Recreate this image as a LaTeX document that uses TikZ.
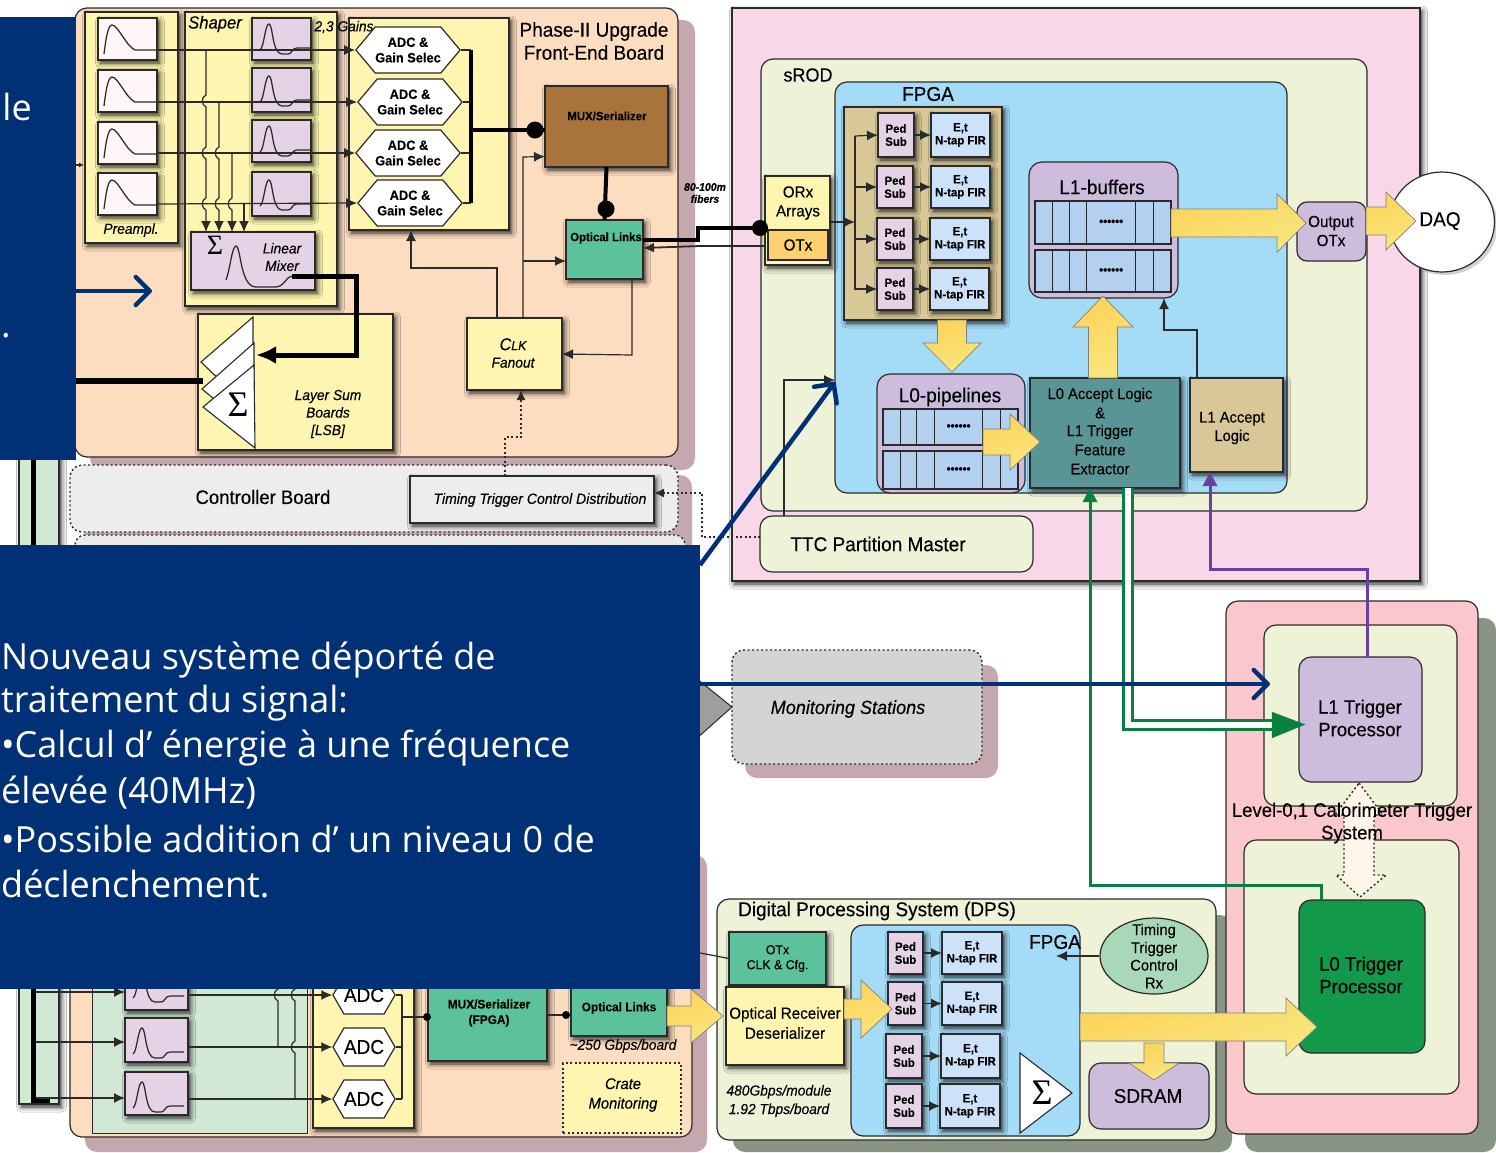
\documentclass[tikz,border=0pt]{standalone}
\usepackage{fontspec}
\setmainfont[FakeStretch=0.95,FakeBold=0.25]{Liberation Sans}
\newfontfamily\cmc{Open Sans}
\newfontfamily\sgm{Liberation Serif}
\usetikzlibrary{arrows.meta,shapes.symbols,shapes.geometric,shadows,shadows.blur,calc}
\definecolor{linec}{HTML}{2A2A2A}
\definecolor{peach}{HTML}{FDDDC0}
\definecolor{mauve}{HTML}{C4A8AE}
\definecolor{ylw}{HTML}{FDF5B0}
\definecolor{lilac}{HTML}{CDBCDC}
\definecolor{pinkbx}{HTML}{E6D2E6}
\definecolor{palegr}{HTML}{EEF3D8}
\definecolor{fblue}{HTML}{A4DCF8}
\definecolor{tan}{HTML}{D8C898}
\definecolor{etb}{HTML}{CCE2F8}
\definecolor{cell}{HTML}{B4D0F0}
\definecolor{teal}{HTML}{5A9595}
\definecolor{optg}{HTML}{5CC29C}
\definecolor{navy}{HTML}{003075}
\definecolor{grn}{HTML}{078040}
\definecolor{prp}{HTML}{6A3FA0}
\definecolor{gshd}{HTML}{8A9484}
\definecolor{brownb}{HTML}{A8743C}
\definecolor{cratep}{HTML}{F8D8E8}
\definecolor{lvlp}{HTML}{FAC8CC}
\definecolor{l0g}{HTML}{12994A}
\definecolor{timg}{HTML}{A8D8B8}
\definecolor{otxo}{HTML}{FFD070}
\definecolor{stripg}{HTML}{D0E8D4}
\definecolor{barA}{HTML}{FDD35A}
\definecolor{barB}{HTML}{F8E67E}
\newcommand\fs[1]{\fontsize{#1}{#1}\selectfont}
\newcounter{lb}
\newcommand\bx[7]{\node[#6,minimum width={#4-#2},minimum height={#5-#3},inner sep=0pt,outer sep=0pt,align=center] (#1) at ({(#2+#4)/2},{(#3+#5)/2}) {#7};}
\newcommand\lbl[4][]{\stepcounter{lb}\node[align=center,inner sep=0pt,#1] (t\thelb) at (#2,#3) {#4};}
\newcommand\pulA[2]{\draw[pulse,shift={(#1,#2)}] (6,36) .. controls (8,20) and (10,7) .. (14,7) .. controls (20,7) and (28,28) .. (37,32) -- (59,32);}
\newcommand\pulB[2]{\draw[pulse,shift={(#1,#2)}] (8,32) .. controls (12,30) and (13,6) .. (17,6) .. controls (21,6) and (20,36) .. (30,36) -- (36,36) .. controls (40,36) and (40,30) .. (45,30) -- (59,30);}
\newcommand\hopv[2]{-- ({#1},{#2-6}) .. controls ({#1-5},{#2-4}) and ({#1-5},{#2+4}) .. ({#1},{#2+6})}
\newcommand\barR[5]{\draw[bar] let \p1=(#1),\p2=(#2) in (\x1,{\y2-#4pt}) -- ({\x2-#3pt},{\y2-#4pt}) -- ({\x2-#3pt},{\y2-#5pt}) -- (\p2) -- ({\x2-#3pt},{\y2+#5pt}) -- ({\x2-#3pt},{\y2+#4pt}) -- (\x1,{\y2+#4pt}) -- cycle;}
\newcommand\barD[5]{\draw[bar] let \p1=(#1),\p2=(#2) in ({\x2-#4pt},\y1) -- ({\x2-#4pt},{\y2+#3pt}) -- ({\x2-#5pt},{\y2+#3pt}) -- (\p2) -- ({\x2+#5pt},{\y2+#3pt}) -- ({\x2+#4pt},{\y2+#3pt}) -- ({\x2+#4pt},\y1) -- cycle;}
\newcommand\barU[5]{\draw[bar] let \p1=(#1),\p2=(#2) in ({\x2-#4pt},\y1) -- ({\x2-#4pt},{\y2-#3pt}) -- ({\x2-#5pt},{\y2-#3pt}) -- (\p2) -- ({\x2+#5pt},{\y2-#3pt}) -- ({\x2+#4pt},{\y2-#3pt}) -- ({\x2+#4pt},\y1) -- cycle;}
\newcommand\cells[5]{\bx{#1}{#2}{#3}{#4}{#5}{fill=cell,draw=linec,line width=1.1pt}{}
 \foreach \f in {.127,.25,.38,.74,.87}{\draw[linec,line width=.9pt] ($(#1.north west)!\f!(#1.north east)$) -- ($(#1.south west)!\f!(#1.south east)$);}
 \lbl[font=\fs{12}\bfseries]{{#2+(#4-#2)*.56}}{{(#3+#5)/2}}{••••••}}
\newcommand\pedet[7]{\bx{p#1}{#2}{#3}{#4}{#5}{pbx}{Ped\\[1pt]Sub}\bx{e#1}{#6}{#3}{#7}{#5}{ebx}{E,t\\[1pt]N-tap FIR}\draw[conn] (p#1.east) -- (e#1.west);}
\tikzset{
 sh/.style={blur shadow={shadow xshift=2.5pt,shadow yshift=-3pt,shadow blur radius=5pt,shadow opacity=85}},
 bb/.style={draw=linec,line width=1.2pt},
 pulse/.style={draw=linec,line width=1.25pt},
 conn/.style={draw=linec,line width=1.2pt,-{Latex[length=11pt,width=10pt]}},
 plain/.style={draw=linec,line width=1.2pt},
 thickk/.style={draw=black,line width=3.5pt},
 bar/.style={draw=linec!60,line width=.7pt,left color=barA,right color=barB,shading angle=20},
 hexa/.style={signal,signal to=east and west,signal pointer angle=100,fill=white,draw=linec,line width=1.2pt,inner sep=0pt,font=\fs{13.5}\bfseries,align=center},
 hexb/.style={signal,signal to=east and west,signal pointer angle=120,fill=white,draw=linec,line width=1.2pt,inner sep=0pt,font=\fs{20},align=center},
 pbx/.style={fill=pinkbx,bb,sh,font=\fs{12}\bfseries},
 ebx/.style={fill=etb,bb,sh,font=\fs{12}\bfseries},
 navyar/.style={draw=navy,line width=4.5pt,-{Straight Barb[length=14pt,width=28pt,line width=4.5pt,round]}},
 dotb/.style={draw=linec,line width=1.4pt,dash pattern=on 2pt off 2.5pt},
 panel/.style={fill=navy},
 ptxt/.style={text=white,anchor=west,font=\cmc\fs{36}},
}
\begin{document}
\begin{tikzpicture}[x=1pt,y=-1pt]
\useasboundingbox (0,0) rectangle (1496,1152);
\fill[white] (0,0) rectangle (1496,1152);

%=== shadows of boards
\bx{sFE}{90}{20}{695}{470}{fill=mauve,rounded corners=12pt}{}
\bx{sCtl}{85}{475}{692}{560}{fill=mauve,rounded corners=12pt}{}
\bx{sFE2}{85}{855}{707}{1152}{fill=mauve,rounded corners=12pt}{}
\bx{sMon}{745}{665}{998}{778}{fill=mauve,rounded corners=12pt}{}
\bx{sDPS}{733}{915}{1232}{1152}{fill=gshd,rounded corners=12pt}{}
\bx{sLvl}{1245}{618}{1496}{1152}{fill=gshd,rounded corners=12pt}{}

%=== Front-end board
\bx{fe}{75}{8}{678}{457}{fill=peach,bb,rounded corners=12pt}{}
\lbl[font=\fs{20}]{594}{41}{Phase-II Upgrade\\[3pt]Front-End Board}
\bx{pregrp}{85}{12}{178}{243}{fill=ylw,bb,sh}{}
\lbl[font=\fs{14.5}\itshape]{131}{230}{Preampl.}
\bx{shgrp}{185}{12}{337}{306}{fill=ylw,bb,sh}{}
\lbl[font=\fs{17.5}\itshape]{215}{24}{Shaper}
\bx{adcgrp}{349}{18}{509}{230}{fill=ylw,bb,sh}{}
\bx{pre1}{98}{18}{157}{60}{fill=red!3,bb,sh}{}
\bx{pre2}{98}{70}{157}{112}{fill=red!3,bb,sh}{}
\bx{pre3}{98}{122}{157}{164}{fill=red!3,bb,sh}{}
\bx{pre4}{98}{173}{157}{215}{fill=red!3,bb,sh}{}
\pulA{98}{18}\pulA{98}{70}\pulA{98}{122}\pulA{98}{173}
\bx{sh1}{252}{18}{311}{60}{fill=pinkbx,bb,sh}{}
\bx{sh2}{252}{68}{311}{112}{fill=pinkbx,bb,sh}{}
\bx{sh3}{252}{120}{311}{162}{fill=pinkbx,bb,sh}{}
\bx{sh4}{252}{172}{311}{216}{fill=pinkbx,bb,sh}{}
\pulB{252}{18}\pulB{252}{70}\pulB{252}{120}\pulB{252}{174}
\lbl[font=\fs{14.5}\itshape]{344}{27}{2,3 Gains}
\bx{mix}{191}{232}{315}{290}{fill=pinkbx,bb,sh}{}
\lbl[font=\sgm\fs{28}]{215}{245}{Σ}
\draw[pulse] (226,280) .. controls (230,270) and (232,246) .. (236,246) .. controls (241,246) and (240,287) .. (256,287) -- (275,287) .. controls (285,287) and (285,277) .. (292,276);
\lbl[font=\fs{14.5}\itshape]{282}{257}{Linear\\[3pt]Mixer}
\node[hexa,minimum width=100pt,minimum height=46pt] (h1) at (408,50) {ADC \&\\[2pt]Gain Selec};
\node[hexa,minimum width=100pt,minimum height=46pt] (h2) at (410,102) {ADC \&\\[2pt]Gain Selec};
\node[hexa,minimum width=100pt,minimum height=46pt] (h3) at (408,153) {ADC \&\\[2pt]Gain Selec};
\node[hexa,minimum width=100pt,minimum height=46pt] (h4) at (410,203) {ADC \&\\[2pt]Gain Selec};
\draw[conn] ([yshift=-11pt]pre1.east) -- (h1.west);
\draw[conn] ([yshift=-11pt]pre2.east) -- (h2.west);
\draw[conn] ([yshift=-10pt]pre3.east) -- (h3.west);
\draw[conn] ([yshift=-10pt]pre4.east) -- (h4.west);
\draw[conn] (206,50) \hopv{206}{101} \hopv{206}{153} \hopv{206}{204} -- ([xshift=15pt]mix.north west);
\draw[conn] (219,101) \hopv{219}{153} \hopv{219}{204} -- ([xshift=28pt]mix.north west);
\draw[conn] (232,153) \hopv{232}{204} -- ([xshift=41pt]mix.north west);
\draw[conn] (244,204) -- ([xshift=53pt]mix.north west);
\coordinate (bus1) at (471,50);\coordinate (bus4) at (471,203);\coordinate (busm) at (471,130);
\draw[plain] (h1.east) -- (bus1);\draw[plain] (h2.east) -- (471,102);\draw[plain] (h3.east) -- (471,153);\draw[plain] (h4.east) -- (bus4);
\draw[thickk] (bus1) -- (bus4);
\bx{mux}{545}{86}{668}{167}{fill=brownb,bb,sh}{}
\lbl[font=\fs{12}\bfseries]{607}{116}{MUX/Serializer}
\bx{opt}{566}{220}{643}{279}{fill=optg,bb,sh}{}
\lbl[font=\fs{12}\bfseries]{606}{238}{Optical Links}
\draw[thickk,line width=4pt] (busm) -- ([yshift=-3.5pt]mux.west);
\fill[black] (535,130) circle (8.5pt);
\draw[thickk,line width=4pt] (mux.south) -- (opt.north);
\fill[black] (606,209) circle (8.5pt);
%=== LSB
\bx{lsb}{198}{314}{393}{450}{fill=ylw,bb,sh}{}
\path[fill=white,draw=linec,line width=1.1pt] (253,317) -- (201,362) -- (253,412) -- cycle;
\path[fill=white,draw=linec,line width=1.1pt] (254,343) -- (202,389) -- (254,432) -- cycle;
\path[fill=white,draw=linec,line width=1.1pt] (254,365) -- (203,407) -- (255,448) -- cycle;
\coordinate (lsbin) at (256,355);
\coordinate (lsbout) at (203,381);
\lbl[font=\sgm\fs{36}]{238}{405}{Σ}
\lbl[font=\fs{14.5}\itshape]{328}{414}{Layer Sum\\[3pt]Boards\\[3pt][LSB]}
\draw[black,line width=5pt,-{Latex[length=20pt,width=18pt]}] ([xshift=101pt,yshift=-15pt]mix.west) -- (356,276) -- (356,355) -- (lsbin);
\bx{clk}{467}{318}{562}{390}{fill=ylw,bb,sh}{}
\lbl[font=\fs{14.5}\itshape]{513}{353}{{\fs{17}C}{\fs{13}LK}\\[3pt]Fanout}
\draw[conn] ([xshift=30pt]clk.north west) -- (497,268) -- (411,268) -- ([xshift=62pt]adcgrp.south west);
\draw[conn] ([xshift=56pt]clk.north west) -- (523,157) -- ([yshift=-30pt]mux.west);
\draw[conn] (523,261) -- ([yshift=-11.5pt]opt.west);
\draw[conn] ([xshift=66pt]opt.south west) -- (632,355) -- (clk.east);
%=== Controller
\bx{ctl2}{75}{535}{685}{620}{fill=black!8,dotb,rounded corners=10pt}{}
\bx{ctl}{70}{465}{678}{532}{fill=black!7,dotb,rounded corners=12pt}{}
\lbl[font=\fs{19.5}]{263}{497}{Controller Board}
\bx{ttcd}{410}{476}{654}{523}{fill=black!7,bb,sh}{}
\lbl[font=\fs{14.8}\itshape]{540}{500}{Timing Trigger Control Distribution}
\draw[dotb,-{Latex[length=10pt,width=9pt]}] ([xshift=95pt]ttcd.north west) -- (505,437) -- (521,437) -- ([xshift=54pt]clk.south west);

%=== sROD crate
\bx{crate}{732}{8}{1420}{581}{fill=cratep,bb,sh}{}
\bx{srod}{761}{59}{1367}{511}{fill=palegr,bb,rounded corners=12pt}{}
\lbl[font=\fs{19}]{808}{75}{sROD}
\bx{fpga}{835}{82}{1287}{493}{fill=fblue,bb,rounded corners=12pt}{}
\lbl[font=\fs{20}]{928}{94}{FPGA}
\bx{tanb}{844}{107}{1002}{320}{fill=tan,bb,sh}{}
\pedet{1}{878}{113}{914}{157}{931}{990}
\pedet{2}{877}{166}{913}{208}{931}{990}
\pedet{3}{877}{218}{913}{260}{930}{990}
\pedet{4}{877}{268}{913}{310}{930}{989}
\coordinate (vb) at (855,222);
\draw[plain,line width=1.8pt] (855,136) -- (855,290);
\draw[conn] (855,136) -- (p1.west);
\draw[conn] (855,187) -- (p2.west);
\draw[conn] (855,239) -- (p3.west);
\draw[conn] (855,289) -- (p4.west);
\bx{orx}{765}{176}{830}{265}{fill=ylw,bb,sh}{}
\lbl[font=\fs{16}]{798}{203}{ORx\\[3pt]Arrays}
\bx{otx}{768}{230}{828}{260}{fill=otxo,bb}{\fs{16}OTx}
\draw[conn] ([yshift=-1.5pt]orx.east) -- (vb);
\bx{l1b}{1029}{162}{1178}{298}{fill=lilac,bb,rounded corners=13pt}{}
\lbl[font=\fs{20}]{1102}{187}{L1-buffers}
\cells{l1r1}{1035}{201}{1171}{244}
\cells{l1r2}{1035}{250}{1171}{292}
\bx{l0p}{877}{374}{1025}{493}{fill=lilac,bb,rounded corners=13pt}{}
\lbl[font=\fs{20}]{950}{397}{L0-pipelines}
\cells{l0r1}{883}{409}{1018}{445}
\cells{l0r2}{883}{451}{1018}{489}
\bx{l0a}{1030}{378}{1180}{488}{fill=teal,bb,sh}{}
\lbl[font=\fs{15.5}]{1100}{395}{L0 Accept Logic}
\lbl[font=\fs{15.5}]{1100}{413}{\&}
\lbl[font=\fs{15.5}]{1100}{432}{L1 Trigger}
\lbl[font=\fs{15.5}]{1100}{450}{Feature}
\lbl[font=\fs{15.5}]{1100}{469}{Extractor}
\bx{l1a}{1190}{378}{1283}{472}{fill=tan,bb,sh}{}
\lbl[font=\fs{15.5}]{1232}{428}{L1 Accept\\[3pt]Logic}
\draw[conn] ([xshift=7pt]l1a.north west) -- (1197,330) -- (1164,330) -- ([xshift=135pt]l1b.south west);
\bx{ttcp}{760}{516}{1033}{572}{fill=palegr,bb,rounded corners=12pt}{}
\lbl[font=\fs{20}]{878}{544}{TTC Partition Master}
\coordinate (fpgain) at (835,380);
\draw[conn] ([xshift=24pt]ttcp.north west) -- (784,380) -- (fpgain);
\draw[dotb,-{Latex[length=10pt,width=9pt]}] ([yshift=7pt]ttcp.west) -- (702,537) -- (702,493) -- ([yshift=6.5pt]ttcd.east);
\bx{outb}{1297}{202}{1366}{261}{fill=lilac,bb,rounded corners=10pt}{}
\node[ellipse,fill=white,draw=linec,line width=1.2pt,minimum width=105pt,minimum height=100pt,inner sep=0pt,drop shadow={shadow xshift=3pt,shadow yshift=-3pt,opacity=.35}] (daq) at (1442,222) {};
\lbl[font=\fs{20}]{1440}{221}{DAQ}
\coordinate (tipOut) at (1306,223);
\coordinate (tipDaq) at (1416,221);
\coordinate (tipL0) at (952,372);
\coordinate (tipL1) at (1103,296);
\coordinate (tipAcc) at (1040,442);
\barR{l1r1.east}{tipOut}{29}{14}{29}
\barR{outb.east}{tipDaq}{30}{14}{29}
\lbl[font=\fs{16}]{1331}{231}{Output\\[3pt]OTx}
\barD{tanb.south}{tipL0}{29}{14.5}{29}
\barU{l0a.north}{tipL1}{31}{14.5}{30}
\coordinate (l0mid) at (983,442);
\barR{l0mid}{tipAcc}{30}{13}{28}

\draw[black,line width=3.5pt] ([yshift=9.5pt]opt.east) -- (698,240) -- (698,228) -- (760,228);
\fill[black] (760,228) circle (8pt);
\draw[conn,line width=1.8pt] (765,246) -- (700,246) -- ([yshift=1.5pt]opt.east);
\lbl[font=\fs{11}\bfseries\itshape]{705}{193}{80-100m\\[1pt]fibers}

%=== Monitoring
\bx{mon}{732}{650}{982}{764}{fill=black!17,dotb,rounded corners=12pt}{}
\lbl[font=\fs{19}\itshape]{848}{709}{Monitoring Stations}
\path[fill=black!38,draw=linec,line width=1pt] (696,678) -- (mon.west) -- ++(-36,32) -- cycle;

%=== Level 0,1
\bx{lvl}{1226}{601}{1478}{1134}{fill=lvlp,bb,rounded corners=12pt}{}
\bx{l1pale}{1264}{625}{1457}{806}{fill=palegr,bb,rounded corners=12pt}{}
\bx{l0pale}{1244}{840}{1459}{1094}{fill=palegr,bb,rounded corners=12pt}{}
\bx{l1tp}{1299}{657}{1422}{782}{fill=lilac,bb,rounded corners=12pt}{}
\lbl[font=\fs{19.5}]{1360}{718}{L1 Trigger\\[3pt]Processor}
\bx{l0tp}{1299}{900}{1425}{1053}{fill=l0g,bb,rounded corners=12pt}{}
\lbl[font=\fs{19.5}]{1361}{975}{L0 Trigger\\[3pt]Processor}
\path[fill=orange!8!white,dotb] (1359,783) -- (1383,815) -- (1374,815) -- (1374,875) -- (1386,875) -- (1360,897) -- (1336,875) -- (1344,875) -- (1344,815) -- (1335,815) -- cycle;
\lbl[font=\fs{19.5}]{1352}{823}{Level-0,1 Calorimeter Trigger\\[3pt]System}

\draw[grn,line width=3pt,-{Triangle[length=14pt,width=14pt]}] ([xshift=22pt]l0tp.north west) -- (1321,885) -- (1090,885) -- ([xshift=60pt]l0a.south west);
\draw[prp,line width=3pt,-{Triangle[length=14pt,width=14pt]}] ([xshift=68pt]l1tp.north west) -- (1367,569) -- (1210,569) -- ([xshift=20pt]l1a.south west);
\coordinate (dl) at (1272,725);
\draw[grn,line width=2.6pt,double=white,double distance=6pt] ([xshift=98pt]l0a.south west) -- (1128,725) -- (dl);
\draw[grn,line width=.1pt,fill=grn] (dl) ++(0,-13) -- ([yshift=-5pt,xshift=6pt]l1tp.west) -- (dl|-0,738) -- cycle;

%=== DPS
\bx{dps}{717}{899}{1216}{1140}{fill=palegr,bb,rounded corners=12pt}{}
\lbl[font=\fs{20}]{877}{911}{Digital Processing System (DPS)}
\bx{otxd}{729}{932}{826}{985}{fill=optg,bb,sh,font=\fs{13}}{OTx\\[2pt]CLK \& Cfg.}
\bx{orcv}{726}{987}{844}{1065}{fill=ylw,bb,sh}{}
\lbl[font=\fs{16}]{785}{1023}{Optical Receiver\\[4pt]Deserializer}
\lbl[font=\fs{14.5}\itshape]{779}{1101}{480Gbps/module\\[4pt]1.92 Tbps/board}
\bx{fpgd}{851}{925}{1080}{1136}{fill=fblue,bb,rounded corners=12pt}{}
\pedet{5}{888}{932}{923}{974}{942}{1002}
\pedet{6}{888}{982}{923}{1025}{942}{1002}
\pedet{7}{886}{1034}{922}{1078}{941}{1000}
\pedet{8}{886}{1084}{922}{1128}{940}{1000}
\lbl[font=\fs{20}]{1055}{942}{FPGA}
\path[fill=white,draw=linec,line width=1.1pt] (1020,1053) -- (1072,1093) -- (1020,1133) -- cycle;
\lbl[font=\sgm\fs{36}]{1042}{1093}{Σ}
\node[ellipse,fill=timg,draw=linec,line width=1.2pt,minimum width=108pt,minimum height=76pt,inner sep=0pt] (tim) at (1154,956) {};
\lbl[font=\fs{15.5}]{1154}{931}{Timing}
\lbl[font=\fs{15.5}]{1154}{949}{Trigger}
\lbl[font=\fs{15.5}]{1154}{965}{Control}
\lbl[font=\fs{15.5}]{1154}{983}{Rx}
\coordinate (timin) at (1056,956);
\draw[conn] (tim.west) -- (timin);
\bx{sdram}{1089}{1063}{1209}{1129}{fill=lilac,bb,rounded corners=12pt}{}
\coordinate (tipSd) at (1154,1080);
\coordinate (tipFp) at (892,1009);
\coordinate (tipL0T) at (1317,1027);
\coordinate (sdtop) at (1154,1043);
\barD{sdtop}{tipSd}{17}{10}{25}
\barR{fpgd.east}{tipL0T}{31}{14}{29}
\barR{orcv.east}{tipFp}{31}{10}{29}
\lbl[font=\fs{20}]{1148}{1096}{SDRAM}

%=== lower-left front-end board
\bx{fe2}{70}{850}{692}{1137}{fill=peach,bb,rounded corners=12pt}{}
\bx{strip}{19}{440}{59}{1104}{fill=stripg,bb,sh}{}
\draw[black,line width=5pt] (33,440) -- (33,1100) -- (50,1100);
\bx{gpan}{92}{850}{307}{1133}{fill=stripg,draw=linec,line width=1pt}{}
\bx{adc2}{313}{850}{414}{1128}{fill=ylw,bb,sh}{}
\bx{q1}{125}{966}{188}{1010}{fill=pinkbx,bb,sh}{}
\bx{q2}{125}{1018}{188}{1062}{fill=pinkbx,bb,sh}{}
\bx{q3}{125}{1072}{188}{1115}{fill=pinkbx,bb,sh}{}
\pulB{125}{966}\pulB{125}{1022}\pulB{125}{1076}
\node[hexb,minimum width=50pt,minimum height=38pt] (a1) at (364,995) {ADC};
\node[hexb,minimum width=50pt,minimum height=38pt] (a2) at (364,1047) {ADC};
\node[hexb,minimum width=50pt,minimum height=38pt] (a3) at (364,1099) {ADC};
\coordinate (c1) at (36,992);\coordinate (c2) at (36,1042);\coordinate (c3) at (36,1098);
\draw[conn] (c1) -- ([yshift=-4pt]q1.west);
\draw[conn] (c2) -- ([yshift=-2pt]q2.west);
\draw[conn] (c3) -- ([yshift=-4.5pt]q3.west);
\draw[conn] ([yshift=-7pt]q1.east) -- (a1.west);
\draw[conn] ([yshift=-7pt]q2.east) -- (a2.west);
\draw[conn] ([yshift=-5.5pt]q3.east) -- (a3.west);
\draw[plain] (278,960) \hopv{278}{995} -- (278,1047);
\draw[plain] (295,960) \hopv{295}{995} \hopv{295}{1047} -- (295,1099);
\draw[plain] (402,995) -- (402,1099);
\draw[plain] (a1.east) -- (402,995);\draw[plain] (a2.east) -- (402,1047);\draw[plain] (a3.east) -- (402,1099);
\bx{mux2}{428}{950}{547}{1061}{fill=optg,bb,sh}{}
\lbl[font=\fs{12.5}\bfseries]{489}{1013}{MUX/Serializer\\[3pt](FPGA)}
\bx{opt2}{571}{950}{667}{1036}{fill=optg,bb,sh}{}
\lbl[font=\fs{12.5}\bfseries]{619}{1008}{Optical Links}
\draw[plain] (402,1017) -- ([yshift=-11.5pt]mux2.west);
\fill[black] (427,1017) circle (4pt);
\draw[plain] ([yshift=-9.5pt]mux2.east) -- ([yshift=-22pt]opt2.west);
\fill[black] (566,1015) circle (4pt);
\lbl[font=\fs{14.5}\itshape]{623}{1046}{\textasciitilde250 Gbps/board}
\bx{crm}{563}{1063}{681}{1133}{fill=ylw,dotb}{}
\lbl[font=\fs{15.5}\itshape]{623}{1095}{Crate\\[4pt]Monitoring}
\coordinate (tipRcv) at (723,1016);
\barR{opt2.east}{tipRcv}{32}{10}{27}
\draw[plain] (690,951) -- (otxd.west);

\coordinate (tk) at (84,165);
\draw[plain,-{Latex[length=5pt,width=5pt]}] (76,165) -- (tk);

%=== blue overlay panels
\bx{pa}{-2}{17}{76}{460}{panel}{}
\bx{pb}{-2}{545}{700}{989}{panel}{}
\draw[black,line width=5.5pt] (pa.east|-0,381) -- (lsbout);
\coordinate (navA) at (152,291);
\draw[navyar] (pa.east|-0,291) -- (navA);
\coordinate (navB) at (835,382);
\draw[navyar] ([yshift=-20pt]pb.north east) -- (navB);
\coordinate (navC) at (1270,684);
\draw[navyar] (pb.east|-0,684) -- (navC);
\lbl[text=white,anchor=east,font=\cmc\fs{36}]{32}{107}{le}
\lbl[text=white,anchor=west,font=\cmc\fs{36}]{1}{336}{.}
\lbl[ptxt]{1}{660}{Nouveau système déporté de}
\lbl[ptxt]{1}{703}{traitement du signal:}
\lbl[ptxt]{1}{748}{•Calcul d’ énergie à une fréquence}
\lbl[ptxt]{1}{793}{élevée (40MHz)}
\lbl[ptxt]{1}{839}{•Possible addition d’ un niveau 0 de}
\lbl[ptxt]{1}{884}{déclenchement.}
\end{tikzpicture}
\end{document}
